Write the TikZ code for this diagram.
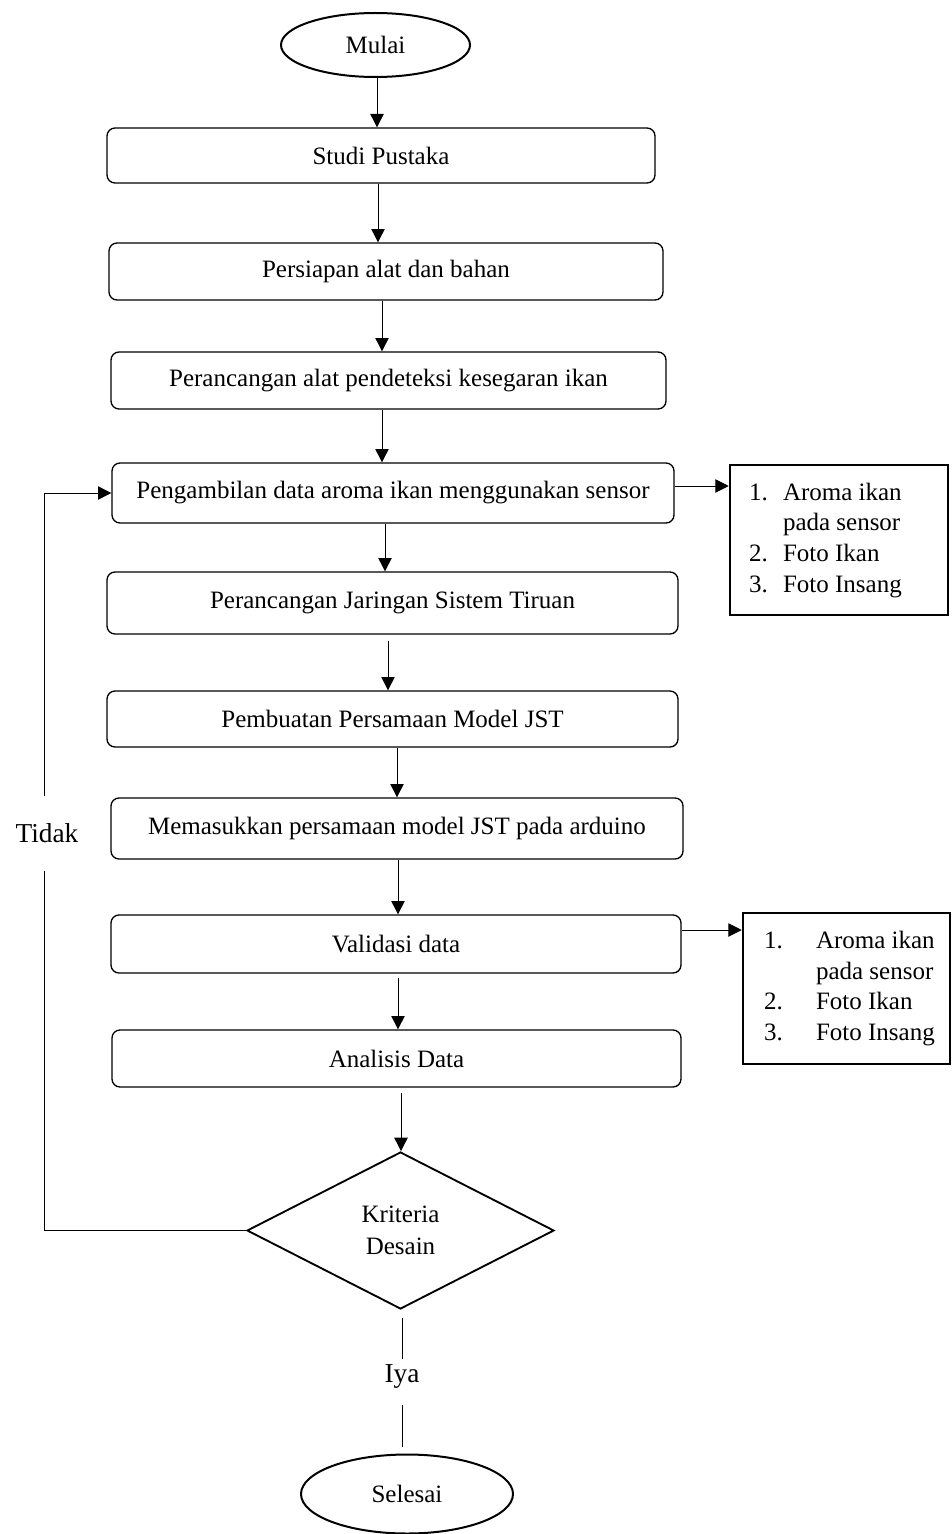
\documentclass[tikz,border=0pt]{standalone}
\usepackage{fontspec}
\setmainfont{Liberation Serif}
\usetikzlibrary{shapes.geometric,arrows.meta}
% one drawing unit = one pixel of the layout grid
\newcommand{\pxu}{*0.75pt}

\tikzset{
  base/.style={font=\fontsize{18.75pt}{24pt}\selectfont, inner sep=0pt, align=center},
  stepbox/.style={base, draw, rounded corners=6pt, line width=1pt},
  terminal/.style={base, draw, ellipse, line width=1.5pt},
  decision/.style={base, draw, diamond, line width=1.4pt},
  listbox/.style={draw, line width=1.9pt, inner sep=0pt},
  listtext/.style={font=\fontsize{18.75pt}{23pt}\selectfont, inner sep=0pt, anchor=west},
  answer/.style={font=\fontsize{20.5pt}{24pt}\selectfont, inner sep=0pt},
  conn/.style={line width=0.75pt},
  arr/.style={conn, -{Triangle[length=10pt,width=10pt]}},
}

\begin{document}
\begin{tikzpicture}[x=0.75pt,y=-0.75pt]
\useasboundingbox (0,0) rectangle (951,1534);

% main flow
\node[terminal, minimum width=189\pxu, minimum height=64\pxu] (mulai) at (375.5,45) {Mulai};
\node[stepbox, minimum width=548\pxu, minimum height=55\pxu] (studi) at (381,155.5) {Studi Pustaka};
\node[stepbox, minimum width=554\pxu, minimum height=57\pxu] (persiapan) at (386,271.5) {Persiapan alat dan bahan};
\node[stepbox, minimum width=555\pxu, minimum height=57\pxu] (alat) at (388.5,380.5) {Perancangan alat pendeteksi kesegaran ikan};
\node[stepbox, minimum width=562\pxu, minimum height=60\pxu] (ambil) at (393,493) {Pengambilan data aroma ikan menggunakan sensor};
\node[stepbox, minimum width=571\pxu, minimum height=62\pxu] (jaringan) at (392.5,603) {Perancangan Jaringan Sistem Tiruan};
\node[stepbox, minimum width=571\pxu, minimum height=56\pxu] (pembuatan) at (392.5,719) {Pembuatan Persamaan Model JST};
\node[stepbox, minimum width=572\pxu, minimum height=61\pxu] (memasukkan) at (397,828.5) {Memasukkan persamaan model JST pada arduino};
\node[stepbox, minimum width=570\pxu, minimum height=58\pxu] (validasi) at (396,944) {Validasi data};
\node[stepbox, minimum width=569\pxu, minimum height=57\pxu] (analisis) at (396.5,1058.5) {Analisis Data};
\node[decision, minimum width=307\pxu, minimum height=157\pxu] (crit) at (400.5,1230.5) {Kriteria\\Desain};
\node[terminal, minimum width=212\pxu, minimum height=79\pxu] (selesai) at (407,1494) {Selesai};

% branch labels
\node[answer, minimum height=75\pxu] (tidak) at (47,833.5) {Tidak};
\node[answer] (iya) at (402,1376) {Iya};

% data lists
\node[listbox, minimum width=218\pxu, minimum height=150\pxu] (out1) at (839,540) {};
\node[listtext] (out1txt) at ([xshift=15pt]out1.west)
  {\begin{tabular}{@{}p{25.5pt}@{}l@{}}1. & Aroma ikan\\ & pada sensor\\ 2. & Foto Ikan\\ 3. & Foto Insang\end{tabular}};
\node[listbox, minimum width=207\pxu, minimum height=151\pxu] (out2) at (846.5,988.5) {};
\node[listtext] (out2txt) at ([xshift=16.5pt]out2.west)
  {\begin{tabular}{@{}p{39pt}@{}l@{}}1. & Aroma ikan\\ & pada sensor\\ 2. & Foto Ikan\\ 3. & Foto Insang\end{tabular}};

% vertical connector lines
\coordinate (k1) at (377,0);
\coordinate (k2) at (378,0);
\coordinate (k3) at (382,0);
\coordinate (k4) at (382,0);
\coordinate (k5) at (385,0);
\coordinate (k6) at (388,0);
\coordinate (k7) at (397,0);
\coordinate (k8) at (398,0);
\coordinate (k9) at (398,0);
\coordinate (k10) at (401,0);

\draw[arr] (mulai.south -| k1) -- (studi.north -| k1);
\draw[arr] (studi.south -| k2) -- (persiapan.north -| k2);
\draw[arr] (persiapan.south -| k3) -- (alat.north -| k3);
\draw[arr] (alat.south -| k4) -- (ambil.north -| k4);
\draw[arr] (ambil.south -| k5) -- (jaringan.north -| k5);
\draw[arr, shorten <=4.5pt] (jaringan.south -| k6) -- (pembuatan.north -| k6);
\draw[arr] (pembuatan.south -| k7) -- (memasukkan.north -| k7);
\draw[arr] (memasukkan.south -| k8) -- (validasi.north -| k8);
\draw[arr, shorten <=3pt] (validasi.south -| k9) -- (analisis.north -| k9);
\draw[arr, shorten <=3.75pt] (analisis.south -| k10) -- (crit.north -| k10);

% side outputs
\coordinate (r1) at (0,486);
\coordinate (r2) at (0,930);
\draw[arr] (ambil.east |- r1) -- (out1.west |- r1);
\draw[arr] (validasi.east |- r2) -- (out2.west |- r2);

% loop back when the criteria are not met
\coordinate (xl) at (44,0);
\draw[conn] (crit.west) -| (tidak.south -| xl);
\draw[arr] (tidak.north -| xl) |- (ambil.west);

% finish when the criteria are met
\coordinate (xi) at (402,0);
\draw[conn, shorten <=6pt, shorten >=3.75pt] (crit.south -| xi) -- (iya.north -| xi);
\draw[conn, shorten <=12.75pt, shorten >=4.9pt] (iya.south -| xi) -- (selesai.north -| xi);
\end{tikzpicture}
\end{document}
